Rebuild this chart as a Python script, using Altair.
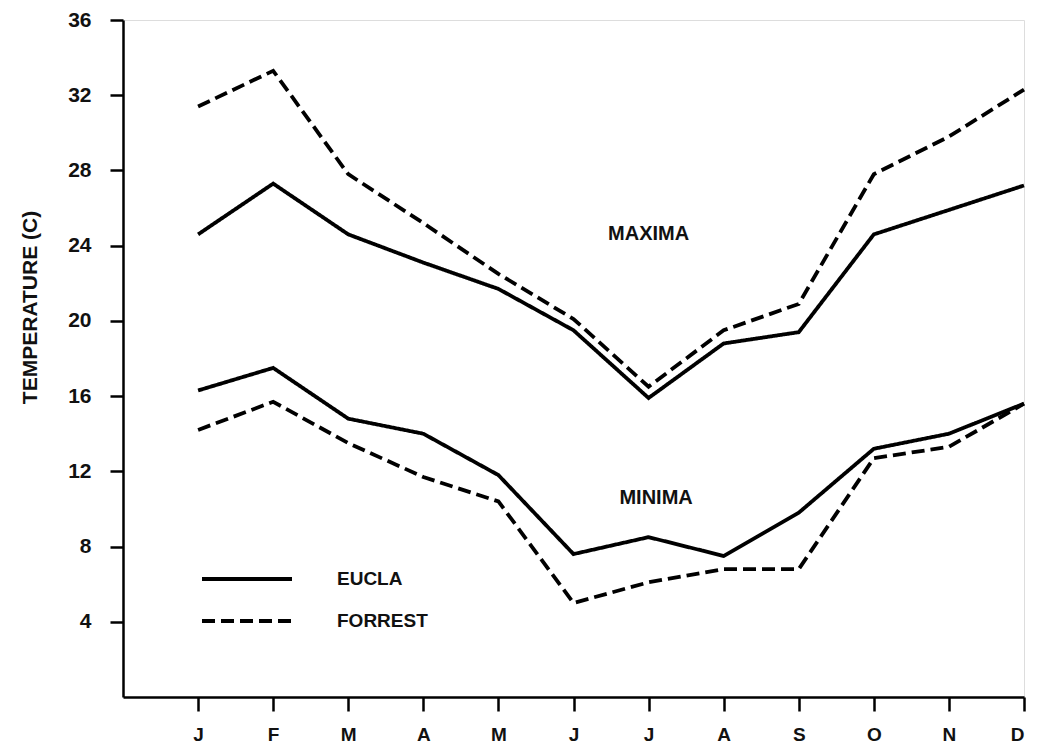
import altair as alt
import pandas as pd

months = ["J", "F", "M", "A", "M", "J", "J", "A", "S", "O", "N", "D"]
month_num = list(range(1, 13))

eucla_max = [24.6, 27.3, 24.6, 23.1, 21.7, 19.5, 15.9, 18.8, 19.4, 24.6, 25.9, 27.2]
forrest_max = [31.4, 33.3, 27.8, 25.2, 22.5, 20.1, 16.5, 19.5, 20.9, 27.8, 29.8, 32.3]
eucla_min = [16.3, 17.5, 14.8, 14.0, 11.8, 7.6, 8.5, 7.5, 9.8, 13.2, 14.0, 15.6]
forrest_min = [14.2, 15.7, 13.5, 11.7, 10.4, 5.0, 6.1, 6.8, 6.8, 12.7, 13.3, 15.6]

stations = ["EUCLA", "FORREST"]
annot_text = ["MAXIMA", "MINIMA"]
annot_month = [7.0, 7.1]
annot_temp = [24.6, 10.6]

rows = []
for station, kind, vals in [
    ("EUCLA", "max", eucla_max),
    ("FORREST", "max", forrest_max),
    ("EUCLA", "min", eucla_min),
    ("FORREST", "min", forrest_min),
]:
    for m, v in zip(month_num, vals):
        rows.append({"month": m, "temp": v, "station": station, "series": station + "-" + kind})
df = pd.DataFrame(rows)

ann = pd.DataFrame({"label": annot_text, "month": annot_month, "temp": annot_temp})

FONT = "Liberation Sans"
label_expr = "[" + ",".join("'" + m + "'" for m in months) + "][datum.value - 1]"

x_scale = alt.Scale(domain=[0, 12], nice=False, zero=False)
y_scale = alt.Scale(domain=[0, 36], nice=False)

lines = alt.Chart(df).mark_line(color="black", strokeWidth=3.8, strokeCap="butt").encode(
    x=alt.X("month:Q", scale=x_scale,
            axis=alt.Axis(values=month_num, labelExpr=label_expr, title=None,
                          grid=False, tickSize=14, labelPadding=14,
                          labelFontSize=19, labelFont=FONT, labelFontWeight="bold",
                          domainWidth=2.5, tickWidth=2.5, domainColor="black",
                          tickColor="black", labelColor="#111")),
    y=alt.Y("temp:Q", scale=y_scale,
            axis=alt.Axis(values=[4, 8, 12, 16, 20, 24, 28, 32, 36], grid=False,
                          title="TEMPERATURE (C)", titleFont=FONT, titleFontSize=21,
                          titleFontWeight="bold", titleX=-93, titleY=287,
                          titleAngle=-90, titleAlign="center", titleBaseline="middle",
                          titleColor="#111",
                          tickSize=13, labelPadding=19, labelFontSize=21,
                          labelFont=FONT, labelFontWeight="bold",
                          domainWidth=2.5, tickWidth=2.5, domainColor="black",
                          tickColor="black", labelColor="#111")),
    detail="series:N",
    strokeDash=alt.StrokeDash(
        "station:N",
        scale=alt.Scale(domain=stations, range=[[1, 0], [13, 6]]),
        legend=alt.Legend(title=None, orient="none", legendX=77, legendY=549,
                          symbolType="stroke", symbolSize=8100,
                          symbolStrokeWidth=4, symbolStrokeColor="black",
                          clipHeight=20, rowPadding=22,
                          labelFont=FONT, labelFontSize=19, labelFontWeight="bold",
                          labelOffset=43, labelColor="#111"),
    ),
)

texts = alt.Chart(ann).mark_text(font=FONT, fontSize=20, fontWeight="bold",
                                 color="#111", align="center", baseline="middle").encode(
    x=alt.X("month:Q", scale=x_scale),
    y=alt.Y("temp:Q", scale=y_scale),
    text="label:N",
)

chart = alt.layer(lines, texts).properties(
    width=901, height=677,
    autosize=alt.AutoSizeParams(type="none"),
    padding={"left": 115, "top": 12, "right": 5, "bottom": 50},
).configure_view(stroke=None).configure(background="white")

chart.save("out.html", embed_options={"renderer": "svg", "actions": False})
